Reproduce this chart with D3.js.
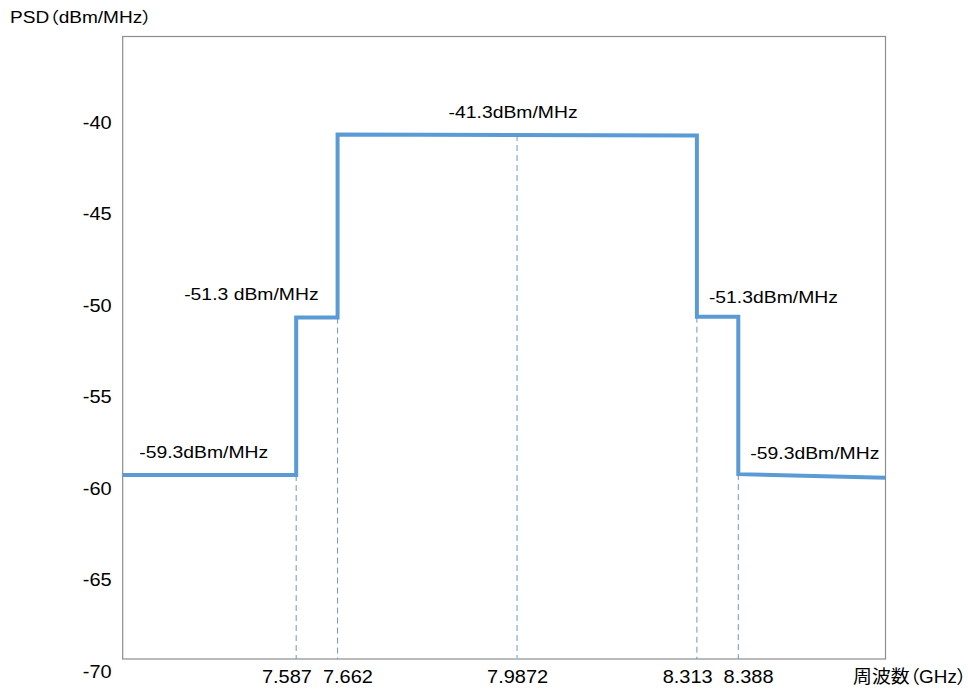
<!DOCTYPE html>
<html>
<head>
<meta charset="utf-8">
<script src="https://cdn.jsdelivr.net/npm/d3@7"></script>
<style>
  html, body { margin: 0; padding: 0; background: #fff; }
  svg text { font-family: "Liberation Sans", Arial, "Noto Sans CJK JP", sans-serif; fill: #000; font-feature-settings: "palt"; }
</style>
</head>
<body>
<svg id="chart" width="968" height="689"></svg>
<script>
// ---- data ----
const freqTicks = [7.587, 7.662, 7.9872, 8.313, 8.388];
const freqTickLabels = ["7.587", "7.662", "7.9872", "8.313", "8.388"];
const psdTicks = [-40, -45, -50, -55, -60, -65, -70];
const psdTickLabels = ["-40", "-45", "-50", "-55", "-60", "-65", "-70"];
const freqDomain = [7.2727, 8.6547];
const psdDomain = [-69.345, -35.32];
// spectrum mask polyline (GHz, dBm/MHz)
const maskFreq = [7.2727, 7.587, 7.587, 7.662, 7.662, 8.313, 8.313, 8.388, 8.388, 8.6547];
const maskPsd  = [-59.3, -59.3, -50.7, -50.7, -40.7, -40.75, -50.65, -50.65, -59.25, -59.45];
// annotations
const annoText = ["-59.3dBm/MHz", "-51.3 dBm/MHz", "-41.3dBm/MHz", "-51.3dBm/MHz", "-59.3dBm/MHz"];
const annoFreq = [7.2727, 7.662, 7.9872, 8.313, 8.388];
const annoPsd  = [-59.3, -50.7, -40.7, -50.65, -59.25];
const yTitle = "PSD（dBm/MHz）";
const xTitle = "周波数（GHz）";

// ---- layout ----
const plot = { left: 122.7, top: 36, right: 885.5, bottom: 659 };
const annoLayout = [
  { anchor: "start",  dx: 16.5, dy: -17.5 },
  { anchor: "end",    dx: -19,  dy: -18 },
  { anchor: "middle", dx: -4,   dy: -17 },
  { anchor: "start",  dx: 12,   dy: -14 },
  { anchor: "start",  dx: 12,   dy: -15 }
];
const stretchTick = 1.11, stretchAnno = 1.21;

const svg = d3.select("#chart");
const x = d3.scaleLinear().domain(freqDomain).range([plot.left, plot.right]);
const y = d3.scaleLinear().domain(psdDomain).range([plot.bottom, plot.top]);

// plot border
svg.append("rect")
  .attr("x", plot.left).attr("y", plot.top + 0.5)
  .attr("width", plot.right - plot.left).attr("height", plot.bottom - plot.top - 0.5)
  .attr("fill", "none").attr("stroke", "#8c8c8c").attr("stroke-width", 1.2);

const pts = maskFreq.map((f, i) => ({ f, p: maskPsd[i] }));

// dashed drop lines
function levelAt(f) {
  const same = pts.filter(d => d.f === f);
  if (same.length) return d3.min(same, d => d.p);
  for (let i = 0; i < pts.length - 1; i++) {
    const a = pts[i], b = pts[i + 1];
    if (f >= a.f && f <= b.f && b.f > a.f) return a.p + (b.p - a.p) * (f - a.f) / (b.f - a.f);
  }
  return psdDomain[0];
}
svg.append("g").selectAll("line").data(freqTicks).join("line")
  .attr("x1", d => x(d)).attr("x2", d => x(d))
  .attr("y1", d => y(levelAt(d))).attr("y2", plot.bottom)
  .attr("stroke", (d, i) => i === 2 ? "#9cc2e5" : "#6a96c8")
  .attr("stroke-width", (d, i) => i === 2 ? 1.6 : 1)
  .attr("stroke-dasharray", "6,4");

// mask line
svg.append("path").datum(pts)
  .attr("d", d3.line().x(d => x(d.f)).y(d => y(d.p)))
  .attr("fill", "none").attr("stroke", "#5B9BD5").attr("stroke-width", 4)
  .attr("stroke-linejoin", "miter").attr("stroke-linecap", "butt");

// y axis
const gy = svg.append("g").attr("transform", `translate(${plot.left},0)`)
  .call(d3.axisLeft(y).tickValues(psdTicks).tickFormat((d, i) => psdTickLabels[i]).tickSize(0).tickPadding(10));
gy.select(".domain").remove();
gy.selectAll("text").attr("font-size", 18).attr("font-family", null).attr("dy", "0.36em")
  .attr("transform", `scale(${stretchTick},1)`);

// x axis
const gx = svg.append("g").attr("transform", `translate(0,${plot.bottom})`)
  .call(d3.axisBottom(x).tickValues(freqTicks).tickFormat((d, i) => freqTickLabels[i]).tickSize(0).tickPadding(11));
gx.select(".domain").remove();
const xt = gx.selectAll("text").attr("font-size", 18).attr("font-family", null)
  .attr("transform", `scale(${stretchTick},1)`);
// push overlapping tick labels apart
const labs = xt.nodes().map((n, i) => ({ n, c: x(freqTicks[i]), w: n.getComputedTextLength() * stretchTick }));
const gap = 11;
for (let iter = 0; iter < 20; iter++) {
  for (let i = 0; i < labs.length - 1; i++) {
    const a = labs[i], b = labs[i + 1];
    const need = (a.w + b.w) / 2 + gap - (b.c - a.c);
    if (need > 0) { a.c -= need / 2; b.c += need / 2; }
  }
}
labs.forEach((l, i) => d3.select(l.n).attr("x", (l.c - x(freqTicks[i])) / stretchTick));

// annotations
svg.append("g").selectAll("text").data(annoText).join("text")
  .attr("text-anchor", (d, i) => annoLayout[i].anchor)
  .attr("font-size", 16)
  .attr("transform", (d, i) => `translate(${x(annoFreq[i]) + annoLayout[i].dx},${y(annoPsd[i]) + annoLayout[i].dy}) scale(${stretchAnno},1)`)
  .text(d => d);

// axis titles
svg.append("text").attr("font-size", 16)
  .attr("transform", `translate(10,23) scale(1.19,1)`).text(yTitle);
svg.append("text").attr("font-size", 18)
  .attr("transform", `translate(853,683) scale(1.05,1)`).text(xTitle);
</script>
</body>
</html>
